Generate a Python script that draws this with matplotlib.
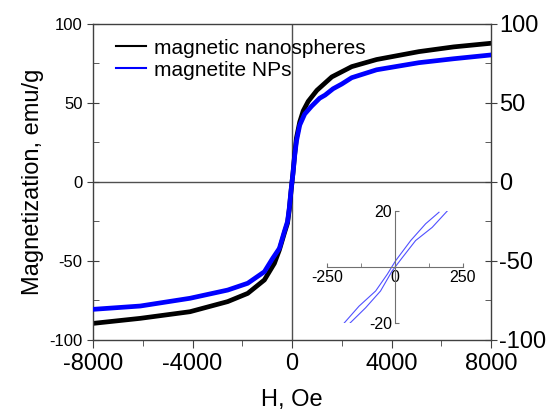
import matplotlib
matplotlib.use("Agg")
import matplotlib.pyplot as plt
from matplotlib.ticker import MultipleLocator
import numpy as np

plt.rcParams['font.family'] = ['Liberation Sans', 'DejaVu Sans']
plt.rcParams['axes.unicode_minus'] = False

# main loop (H in Oe, M in emu/g)
h_nano = [-8000, -6100, -4100, -2585, -1781, -1110, -708, -507, -300, -180, -110, -40, 0,
          40, 110, 180, 310, 450, 650, 1000, 1600, 2400, 3400, 5100, 6500, 8000]
m_nano = [-89.5, -86.3, -82.1, -75.7, -70.5, -62.0, -51.5, -43.0, -32.0, -26.0, -17.5, -6.0, 0,
          6.0, 18.0, 28.0, 38.0, 45.0, 51.0, 58.0, 66.5, 73.0, 77.5, 82.5, 85.5, 87.8]

h_ntp = [-8000, -6100, -4100, -2585, -1781, -1110, -776, -507, -300, -180, -110, -40, 0,
         40, 110, 180, 310, 510, 790, 1110, 1330, 1650, 2000, 2400, 3400, 5100, 6500, 8000]
m_ntp = [-80.6, -78.5, -73.6, -68.4, -64.1, -56.8, -48.3, -42.0, -31.0, -25.0, -16.5, -5.5, 0,
         5.5, 17.0, 26.0, 36.0, 43.0, 48.0, 53.0, 55.0, 59.0, 62.0, 66.0, 71.0, 75.5, 78.0, 80.4]

# inset: low-field loop of magnetite NPs
h_in_a = [-190, -132, -71, -28, 2.5, 58, 113, 162]
m_in_a = [-20.4, -14.0, -8.6, -2.6, 2.2, 9.4, 15.4, 19.5]
h_in_b = [-169, -108, -53, -10, 27, 76, 137, 192]
m_in_b = [-20.4, -14.6, -8.6, -1.4, 3.3, 9.4, 14.1, 19.9]

spine_c = '#404040'

fig = plt.figure(figsize=(5.56, 4.2), dpi=100)
ax = fig.add_axes([0.1673, 0.1905, 0.7158, 0.7524])

ax.axhline(0, color='#505050', lw=1.0, zorder=1)
ax.axvline(0, color='#505050', lw=1.0, zorder=1)
ax.plot(h_nano, m_nano, color='black', lw=3.4, label='magnetic nanospheres', zorder=2)
ax.plot(h_ntp, m_ntp, color='#0000ff', lw=3.4, label='magnetite NPs', zorder=3)

ax.set_xlim(-8000, 8000)
ax.set_ylim(-100, 100)
ax.xaxis.set_major_locator(MultipleLocator(4000))
ax.xaxis.set_minor_locator(MultipleLocator(2000))
ax.yaxis.set_major_locator(MultipleLocator(50))
ax.yaxis.set_minor_locator(MultipleLocator(25))
ax.tick_params(axis='x', which='major', direction='out', length=6, labelsize=17,
               color=spine_c, top=False)
ax.tick_params(axis='x', which='minor', direction='out', length=4, color=spine_c, top=False)
ax.tick_params(axis='y', which='major', direction='inout', length=8, labelsize=12,
               color=spine_c)
ax.tick_params(axis='y', which='minor', direction='in', length=4, color=spine_c)
for s in ax.spines.values():
    s.set_color(spine_c)
    s.set_linewidth(1.0)
ax.set_xlabel('H, Oe', fontsize=17, labelpad=10)
ax.set_ylabel('Magnetization, emu/g', fontsize=17, labelpad=4)

leg = ax.legend(loc='upper left', frameon=False, fontsize=15, handlelength=1.45,
                handletextpad=0.4, labelspacing=0.15, borderaxespad=0.3,
                bbox_to_anchor=(0.02, 1.0))
for line in leg.get_lines():
    line.set_linewidth(1.5)

ax2 = ax.twinx()
ax2.set_ylim(-100, 100)
ax2.yaxis.set_major_locator(MultipleLocator(50))
ax2.yaxis.set_minor_locator(MultipleLocator(25))
ax2.tick_params(axis='y', which='major', direction='inout', length=8, labelsize=17,
                color=spine_c, pad=2)
ax2.tick_params(axis='y', which='minor', direction='in', length=4, color=spine_c)
for s in ax2.spines.values():
    s.set_visible(False)

# inset
axi = fig.add_axes([0.588, 0.231, 0.2446, 0.267])
axi.plot(h_in_a, m_in_a, color='#5050ff', lw=0.8)
axi.plot(h_in_b, m_in_b, color='#5050ff', lw=0.8)
axi.set_xlim(-250, 250)
axi.set_ylim(-20, 20)
axi.patch.set_alpha(0)
axi.spines['left'].set_position(('data', 0))
axi.spines['bottom'].set_position(('data', 0))
axi.spines['right'].set_visible(False)
axi.spines['top'].set_visible(False)
for s in ('left', 'bottom'):
    axi.spines[s].set_color('#707070')
    axi.spines[s].set_linewidth(0.8)
axi.set_xticks([-250, 0, 250])
axi.set_xticks([-125, 125], minor=True)
axi.set_yticks([-20, 20])
axi.tick_params(axis='both', which='both', direction='in', length=3, labelsize=11.5,
                color='#707070', pad=2)

fig.savefig('out.png', dpi=100)
